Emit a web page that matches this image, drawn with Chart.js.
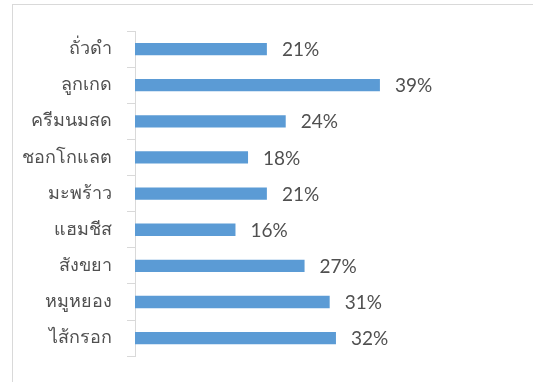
<!DOCTYPE html>
<html>
<head>
<meta charset="utf-8">
<script src="https://cdn.jsdelivr.net/npm/chart.js@4.4.1/dist/chart.umd.min.js"></script>
<style>
    html, body { margin: 0; padding: 0; background: #fff; }
    #wrap { position: relative; width: 533px; height: 382px; overflow: hidden; }
    #frame { position: absolute; left: 12px; top: 4px; width: 600px; height: 500px; border: 1px solid #d9d9d9; }
    canvas { position: absolute; left: 0; top: 0; }
</style>
</head>
<body>
<div id="wrap">
    <div id="frame"></div>
    <canvas id="fillings-chart" width="533" height="382"></canvas>
</div>
<script>
const fillings = ['ถั่วดำ', 'ลูกเกด', 'ครีมนมสด', 'ชอกโกแลต', 'มะพร้าว', 'แฮมชีส', 'สังขยา', 'หมูหยอง', 'ไส้กรอก']
const shares = [21, 39, 24, 18, 21, 16, 27, 31, 32]

const barColor = '#5b9bd5'
const lineColor = '#d9d9d9'

// Excel-style value labels just past the end of each bar
const valueLabels = {
    id: 'valueLabels',
    afterDatasetsDraw(chart) {
        const ctx = chart.ctx
        ctx.save()
        ctx.fillStyle = '#505050'
        ctx.font = '19px Lato'
        ctx.textAlign = 'left'
        ctx.textBaseline = 'middle'
        chart.getDatasetMeta(0).data.forEach((bar, i) => {
            ctx.fillText(shares[i] + '%', bar.x + 15, bar.y + 1)
        })
        ctx.restore()
    }
}

const fillingsChart = new Chart(document.getElementById('fillings-chart'), {
    type: 'bar',
    data: {
        labels: fillings,
        datasets: [{
            data: shares,
            backgroundColor: barColor,
            borderWidth: 0,
            barPercentage: 0.34,
            categoryPercentage: 1
        }]
    },
    options: {
        indexAxis: 'y',
        responsive: false,
        animation: false,
        layout: {
            padding: { left: 0, right: 84, top: 31, bottom: 24 }
        },
        plugins: {
            legend: { display: false },
            tooltip: { enabled: false }
        },
        scales: {
            x: {
                display: false,
                min: 0,
                max: 50
            },
            y: {
                afterFit(scale) { scale.width = 135 },
                grid: {
                    drawOnChartArea: false,
                    tickLength: 8,
                    color: lineColor
                },
                border: { color: lineColor },
                ticks: {
                    padding: 15,
                    color: '#505050',
                    font: { family: 'Noto Sans', size: 18 }
                }
            }
        }
    },
    plugins: [valueLabels]
})
</script>
</body>
</html>
